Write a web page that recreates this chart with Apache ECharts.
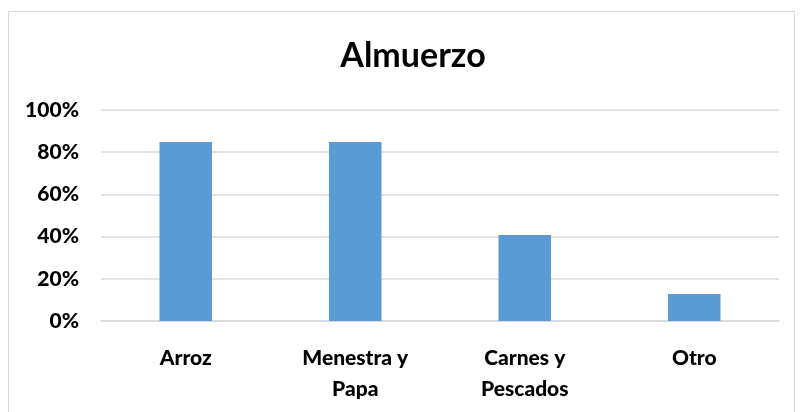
<!DOCTYPE html>
<html>
<head>
<meta charset="utf-8">
<script src="https://cdn.jsdelivr.net/npm/echarts@6/dist/echarts.min.js"></script>
<style>
  html, body { margin: 0; padding: 0; background: #fff; }
  #frame { position: absolute; left: 8px; top: 11px; width: 787px; height: 420px; border: 1px solid #d9d9d9; box-sizing: border-box; }
  #chart { position: absolute; left: 0; top: 0; width: 800px; height: 412px; }
</style>
</head>
<body>
<div id="frame"></div>
<div id="chart"></div>
<script>
const categories = ['Arroz', 'Menestra y\nPapa', 'Carnes y\nPescados', 'Otro']
const values = [0.848, 0.848, 0.408, 0.128]
const yTicks = [0, 0.2, 0.4, 0.6, 0.8, 1]

const chart = echarts.init(document.getElementById('chart'))
const fontFamily = 'Lato, "Open Sans", sans-serif'

chart.setOption({
  animation: false,
  title: {
    text: 'Almuerzo',
    left: 408,
    top: 34,
    textAlign: 'center',
    textStyle: { fontFamily, fontSize: 34, fontWeight: 'bold', color: '#000' }
  },
  grid: { left: 101, right: 21, top: 110, bottom: 91 },
  xAxis: {
    type: 'category',
    data: categories,
    axisLine: { lineStyle: { color: '#d9d9d9', width: 1.5 } },
    axisTick: { show: false },
    axisLabel: {
      fontFamily, fontSize: 21, fontWeight: 900, color: '#000',
      margin: 22, lineHeight: 31, interval: 0
    }
  },
  yAxis: {
    type: 'value',
    min: yTicks[0],
    max: yTicks[yTicks.length - 1],
    interval: 0.2,
    axisLine: { show: false },
    axisTick: { show: false },
    splitLine: { lineStyle: { color: '#d9d9d9', width: 1.5 } },
    axisLabel: {
      fontFamily, fontSize: 21, fontWeight: 900, color: '#000', margin: 22,
      formatter: v => Math.round(v * 100) + '%'
    }
  },
  series: [{
    type: 'bar',
    data: values,
    barWidth: '31%',
    itemStyle: { color: '#5b9bd5' }
  }]
})
</script>
</body>
</html>
